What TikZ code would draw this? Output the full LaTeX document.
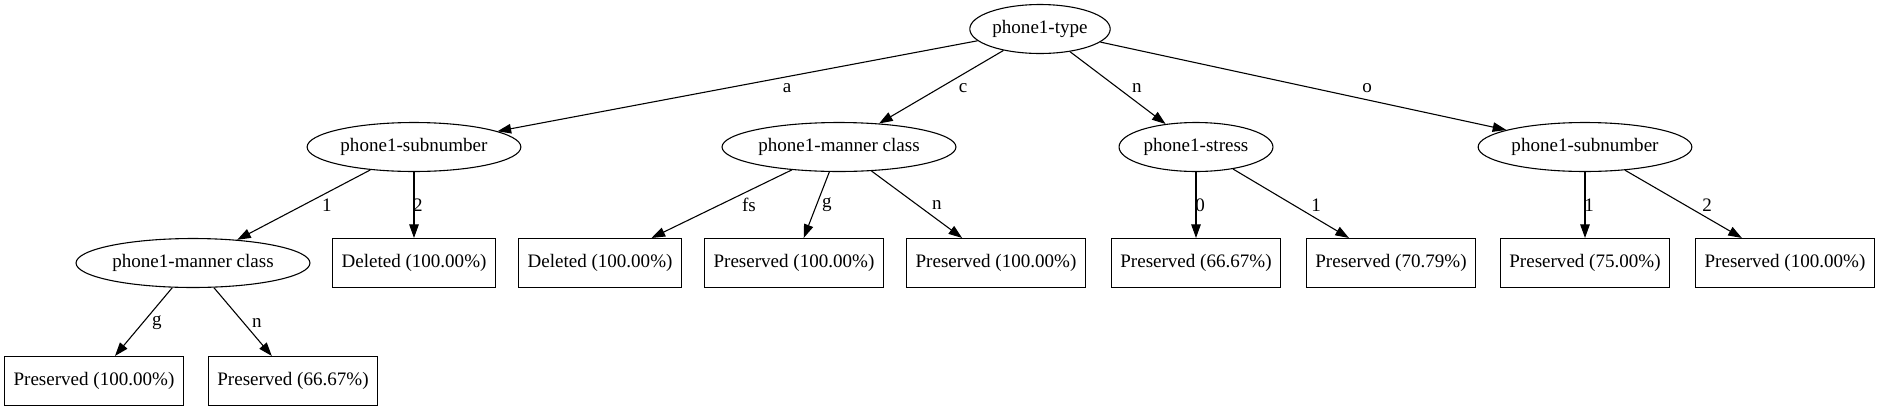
\documentclass[tikz,border=0pt]{standalone}
\usepackage{fontspec}
\setmainfont{Liberation Serif}
\usetikzlibrary{positioning, arrows.meta, shapes.geometric}

\begin{document}
\begin{tikzpicture}[
  x=0.735pt, y=-0.735pt,
  attr/.style={draw, ellipse, line width=0.8pt, minimum height=36pt,
               inner xsep=1.5pt, inner ysep=0pt, font=\fontsize{14}{16}\selectfont},
  leaf/.style={draw, rectangle, line width=0.8pt, minimum height=36pt,
               inner xsep=6.5pt, inner ysep=0pt, font=\fontsize{14}{16}\selectfont},
  branch/.style={-{Triangle[length=10pt, width=7pt]}, line width=0.8pt},
  blabel/.style={inner sep=0pt, font=\fontsize{14}{16}\selectfont},
]
  \useasboundingbox (0,0) rectangle (1879,411);

  % Attribute tests
  \node[attr] (root)    at (1040, 29)  {phone1-type};
  \node[attr] (subA)    at (414, 147)  {phone1-subnumber};
  \node[attr] (mannerC) at (839, 147)  {phone1-manner class};
  \node[attr] (stressN) at (1196, 147) {phone1-stress};
  \node[attr] (subO)    at (1585, 147) {phone1-subnumber};
  \node[attr] (mannerA) at (193, 263)  {phone1-manner class};

  % Leaves
  \foreach \nm/\x/\lab in {delA2/414/{Deleted (100.00\%)}, delCfs/600/{Deleted (100.00\%)},
      preCg/794/{Preserved (100.00\%)}, preCn/996/{Preserved (100.00\%)},
      preN0/1196/{Preserved (66.67\%)}, preN1/1391/{Preserved (70.79\%)},
      preO1/1585/{Preserved (75.00\%)}, preO2/1785/{Preserved (100.00\%)}} {
    \node[leaf] (\nm) at (\x, 263) {\lab};
  }
  \node[leaf] (preAg) at (94, 381)  {Preserved (100.00\%)};
  \node[leaf] (preAn) at (293, 381) {Preserved (66.67\%)};

  % Branches
  \draw[branch] (root) -- (subA);
  \draw[branch] (root) -- (mannerC);
  \draw[branch] (root) -- (stressN);
  \draw[branch] (root) -- (subO);
  \draw[branch] (subA) -- (mannerA);
  \draw[branch] (subA) -- (delA2);
  \draw[branch] (mannerC) -- (delCfs);
  \draw[branch] (mannerC) -- (preCg);
  \draw[branch] (mannerC) -- (preCn);
  \draw[branch] (stressN) -- (preN0);
  \draw[branch] (stressN) -- (preN1);
  \draw[branch] (subO) -- (preO1);
  \draw[branch] (subO) -- (preO2);
  \draw[branch] (mannerA) -- (preAg);
  \draw[branch] (mannerA) -- (preAn);

  % Branch labels
  \node[blabel] (la)  at (787, 88)  {a};
  \node[blabel] (lc)  at (963, 88)  {c};
  \node[blabel] (ln)  at (1137, 88) {n};
  \node[blabel] (lo)  at (1367, 88) {o};
  \node[blabel] (lA1) at (327, 205) {1};
  \node[blabel] (lA2) at (418, 205) {2};
  \node[blabel] (lCfs) at (749, 205) {fs};
  \node[blabel] (lCg) at (827, 205) {g};
  \node[blabel] (lCn) at (937, 205) {n};
  \node[blabel] (lN0) at (1200, 205) {0};
  \node[blabel] (lN1) at (1316, 205) {1};
  \node[blabel] (lO1) at (1589, 205) {1};
  \node[blabel] (lO2) at (1707, 205) {2};
  \node[blabel] (lAg) at (157, 323) {g};
  \node[blabel] (lAn) at (257, 323) {n};
\end{tikzpicture}
\end{document}
